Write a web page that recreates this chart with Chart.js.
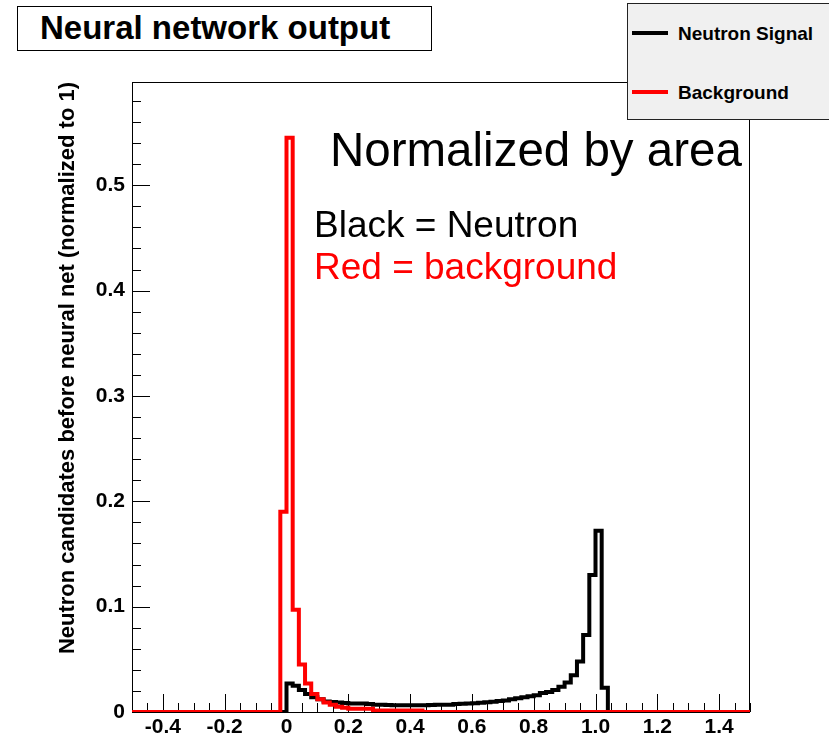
<!DOCTYPE html>
<html>
<head>
<meta charset="utf-8">
<title>Neural network output</title>
<script src="https://cdn.jsdelivr.net/npm/chart.js@4.4.0/dist/chart.umd.min.js"></script>
<style>
  html, body { margin: 0; padding: 0; background: #fff; }
  #wrap { position: relative; width: 829px; height: 737px; overflow: hidden;
          font-family: "Liberation Sans", Arial, Helvetica, sans-serif; }
  #plot { position: absolute; left: 0; top: 0; }
  .abs { position: absolute; white-space: nowrap; line-height: 1; }
  #titleBox { left: 17px; top: 6px; width: 415px; height: 45px; border: 1px solid #000;
              background: #fff; box-sizing: border-box; }
  #titleText { left: 40px; top: 11px; font-size: 33px; font-weight: bold; }
  #legendBox { left: 627px; top: 3px; width: 220px; height: 117px; border: 1.5px solid #222;
               background: #f0f0f0; box-sizing: border-box; }
  .legLine { position: absolute; left: 632px; width: 36px; height: 4px; }
  .legText { left: 678px; font-size: 19px; font-weight: bold; }
  #note1 { left: 330px; top: 126px; font-size: 47.5px; color: #000; }
  #note2 { left: 314px; top: 206px; font-size: 37px; color: #000; }
  #note3 { left: 314px; top: 248px; font-size: 37px; color: #ff0000; }
</style>
</head>
<body>
<div id="wrap">
  <canvas id="plot" width="829" height="737"></canvas>

  <div id="titleBox" class="abs"></div>
  <div id="titleText" class="abs">Neural network output</div>

  <div id="legendBox" class="abs"></div>
  <div class="legLine" style="top:31px;background:#000;"></div>
  <div class="abs legText" style="top:24px;">Neutron Signal</div>
  <div class="legLine" style="top:90px;background:#ff0000;"></div>
  <div class="abs legText" style="top:83px;">Background</div>

  <div id="note1" class="abs">Normalized by area</div>
  <div id="note2" class="abs">Black = Neutron</div>
  <div id="note3" class="abs">Red = background</div>
</div>

<script>
// =========================
// Histogram contents (bin width 0.02, value at each bin's low edge)
// =========================
const binLow = [
  -0.02, 0.00, 0.02, 0.04, 0.06, 0.08, 0.10, 0.12, 0.14, 0.16,
   0.18, 0.20, 0.22, 0.24, 0.26, 0.28, 0.30, 0.32, 0.34, 0.36,
   0.38, 0.40, 0.42, 0.44, 0.46, 0.48, 0.50, 0.52, 0.54, 0.56,
   0.58, 0.60, 0.62, 0.64, 0.66, 0.68, 0.70, 0.72, 0.74, 0.76,
   0.78, 0.80, 0.82, 0.84, 0.86, 0.88, 0.90, 0.92, 0.94, 0.96,
   0.98, 1.00, 1.02, 1.04
];

const neutronSignal = [
  0,      0.027,  0.025,  0.021,  0.017,  0.014,  0.012,  0.010,  0.0095, 0.009,
  0.0085, 0.008,  0.008,  0.008,  0.0075, 0.007,  0.0068, 0.0066, 0.0065, 0.0065,
  0.0065, 0.0065, 0.0065, 0.0065, 0.0066, 0.0068, 0.007,  0.007,  0.0075, 0.0078,
  0.008,  0.0082, 0.0088, 0.0093, 0.0098, 0.0105, 0.011,  0.012,  0.013,  0.014,
  0.015,  0.016,  0.018,  0.019,  0.021,  0.024,  0.028,  0.035,  0.048,  0.073,
  0.13,   0.172,  0.023,  0
];

const background = [
  0.19,   0.545,  0.097,  0.045,  0.027,  0.017,  0.012,  0.009,  0.007,  0.005,
  0.004,  0.003,  0.003,  0.003,  0.003,  0.0015, 0.0015, 0.0015, 0.0015, 0.0015,
  0.0015, 0.0015, 0.0015, 0,      0,      0,      0,      0,      0,      0,
  0,      0,      0,      0,      0,      0,      0,      0,      0,      0,
  0,      0,      0,      0,      0,      0,      0,      0,      0,      0,
  0,      0,      0,      0
];

// axis labels
const xTickValues = [-0.4, -0.2, 0, 0.2, 0.4, 0.6, 0.8, 1, 1.2, 1.4];
const yTickValues = [0, 0.1, 0.2, 0.3, 0.4, 0.5];

const X_MIN = -0.5;
const X_MAX = 1.5;
const Y_MIN = 0;
const Y_MAX = 0.598;

const Y_TITLE = "Neutron candidates before neural net (normalized to 1)";

// step points: empty range on both sides drawn along zero
function histPoints(values) {
  const pts = [{ x: X_MIN, y: 0 }];
  binLow.forEach((x, i) => pts.push({ x: x, y: values[i] }));
  pts.push({ x: X_MAX, y: 0 });
  return pts;
}

// =========================
// Frame + inward ticks (ROOT style)
// =========================
const frameTicks = {
  id: "frameTicks",
  beforeDatasetsDraw(chart) {
    const { ctx, chartArea: a, scales } = chart;
    const xs = scales.x, ys = scales.y;
    ctx.save();
    ctx.strokeStyle = "#000";
    ctx.lineWidth = 1;
    ctx.strokeRect(a.left + 0.5, a.top + 0.5, a.right - a.left - 1, a.bottom - a.top);

    ctx.beginPath();
    // y: major every 0.1, minor every 0.02
    for (let k = 0; k <= 29; k++) {
      const v = k * 0.02;
      if (v > Y_MAX) break;
      const py = Math.round(ys.getPixelForValue(v)) + 0.5;
      const len = (k % 5 === 0) ? 18 : 9;
      ctx.moveTo(a.left, py);
      ctx.lineTo(a.left + len, py);
    }
    // x: major every 0.2, minor every 0.05
    for (let k = 0; k <= 40; k++) {
      const v = X_MIN + k * 0.05;
      const px = Math.round(xs.getPixelForValue(v)) + 0.5;
      const major = Math.abs((v + 0.4) / 0.2 - Math.round((v + 0.4) / 0.2)) < 1e-6;
      const len = major ? 18 : 9;
      ctx.moveTo(px, a.bottom);
      ctx.lineTo(px, a.bottom - len);
    }
    ctx.stroke();
    ctx.restore();
  }
};

// =========================
// Chart
// =========================
const tickFont = { family: "'Liberation Sans', Arial, sans-serif", weight: "bold", size: 21 };

new Chart(document.getElementById("plot").getContext("2d"), {
  type: "line",
  data: {
    datasets: [
      {
        label: "Neutron Signal",
        data: histPoints(neutronSignal),
        borderColor: "#000000",
        borderWidth: 4,
        stepped: "before",
        pointRadius: 0,
        fill: false,
        order: 1
      },
      {
        label: "Background",
        data: histPoints(background),
        borderColor: "#ff0000",
        borderWidth: 4,
        stepped: "before",
        pointRadius: 0,
        fill: false,
        order: 0
      }
    ]
  },
  options: {
    responsive: false,
    animation: false,
    devicePixelRatio: 1,
    layout: { padding: { top: 82, right: 79, left: 0, bottom: 0 } },
    plugins: { legend: { display: false }, tooltip: { enabled: false } },
    scales: {
      x: {
        type: "linear",
        min: X_MIN,
        max: X_MAX,
        afterFit: (s) => { s.height = 25; },
        afterBuildTicks: (s) => { s.ticks = xTickValues.map((v) => ({ value: v })); },
        grid: { display: false, drawTicks: false },
        border: { display: false },
        ticks: {
          autoSkip: false,
          maxRotation: 0,
          padding: 3,
          color: "#000",
          font: tickFont
        }
      },
      y: {
        type: "linear",
        min: Y_MIN,
        max: Y_MAX,
        afterFit: (s) => { s.width = 132; },
        afterBuildTicks: (s) => { s.ticks = yTickValues.map((v) => ({ value: v })); },
        grid: { display: false, drawTicks: false },
        border: { display: false },
        ticks: {
          padding: 7,
          color: "#000",
          font: tickFont
        },
        title: {
          display: true,
          text: Y_TITLE,
          align: "end",
          color: "#000",
          font: { family: "'Liberation Sans', Arial, sans-serif", weight: "bold", size: 22 },
          padding: { top: 55, bottom: 0 }
        }
      }
    }
  },
  plugins: [frameTicks]
});
</script>
</body>
</html>
